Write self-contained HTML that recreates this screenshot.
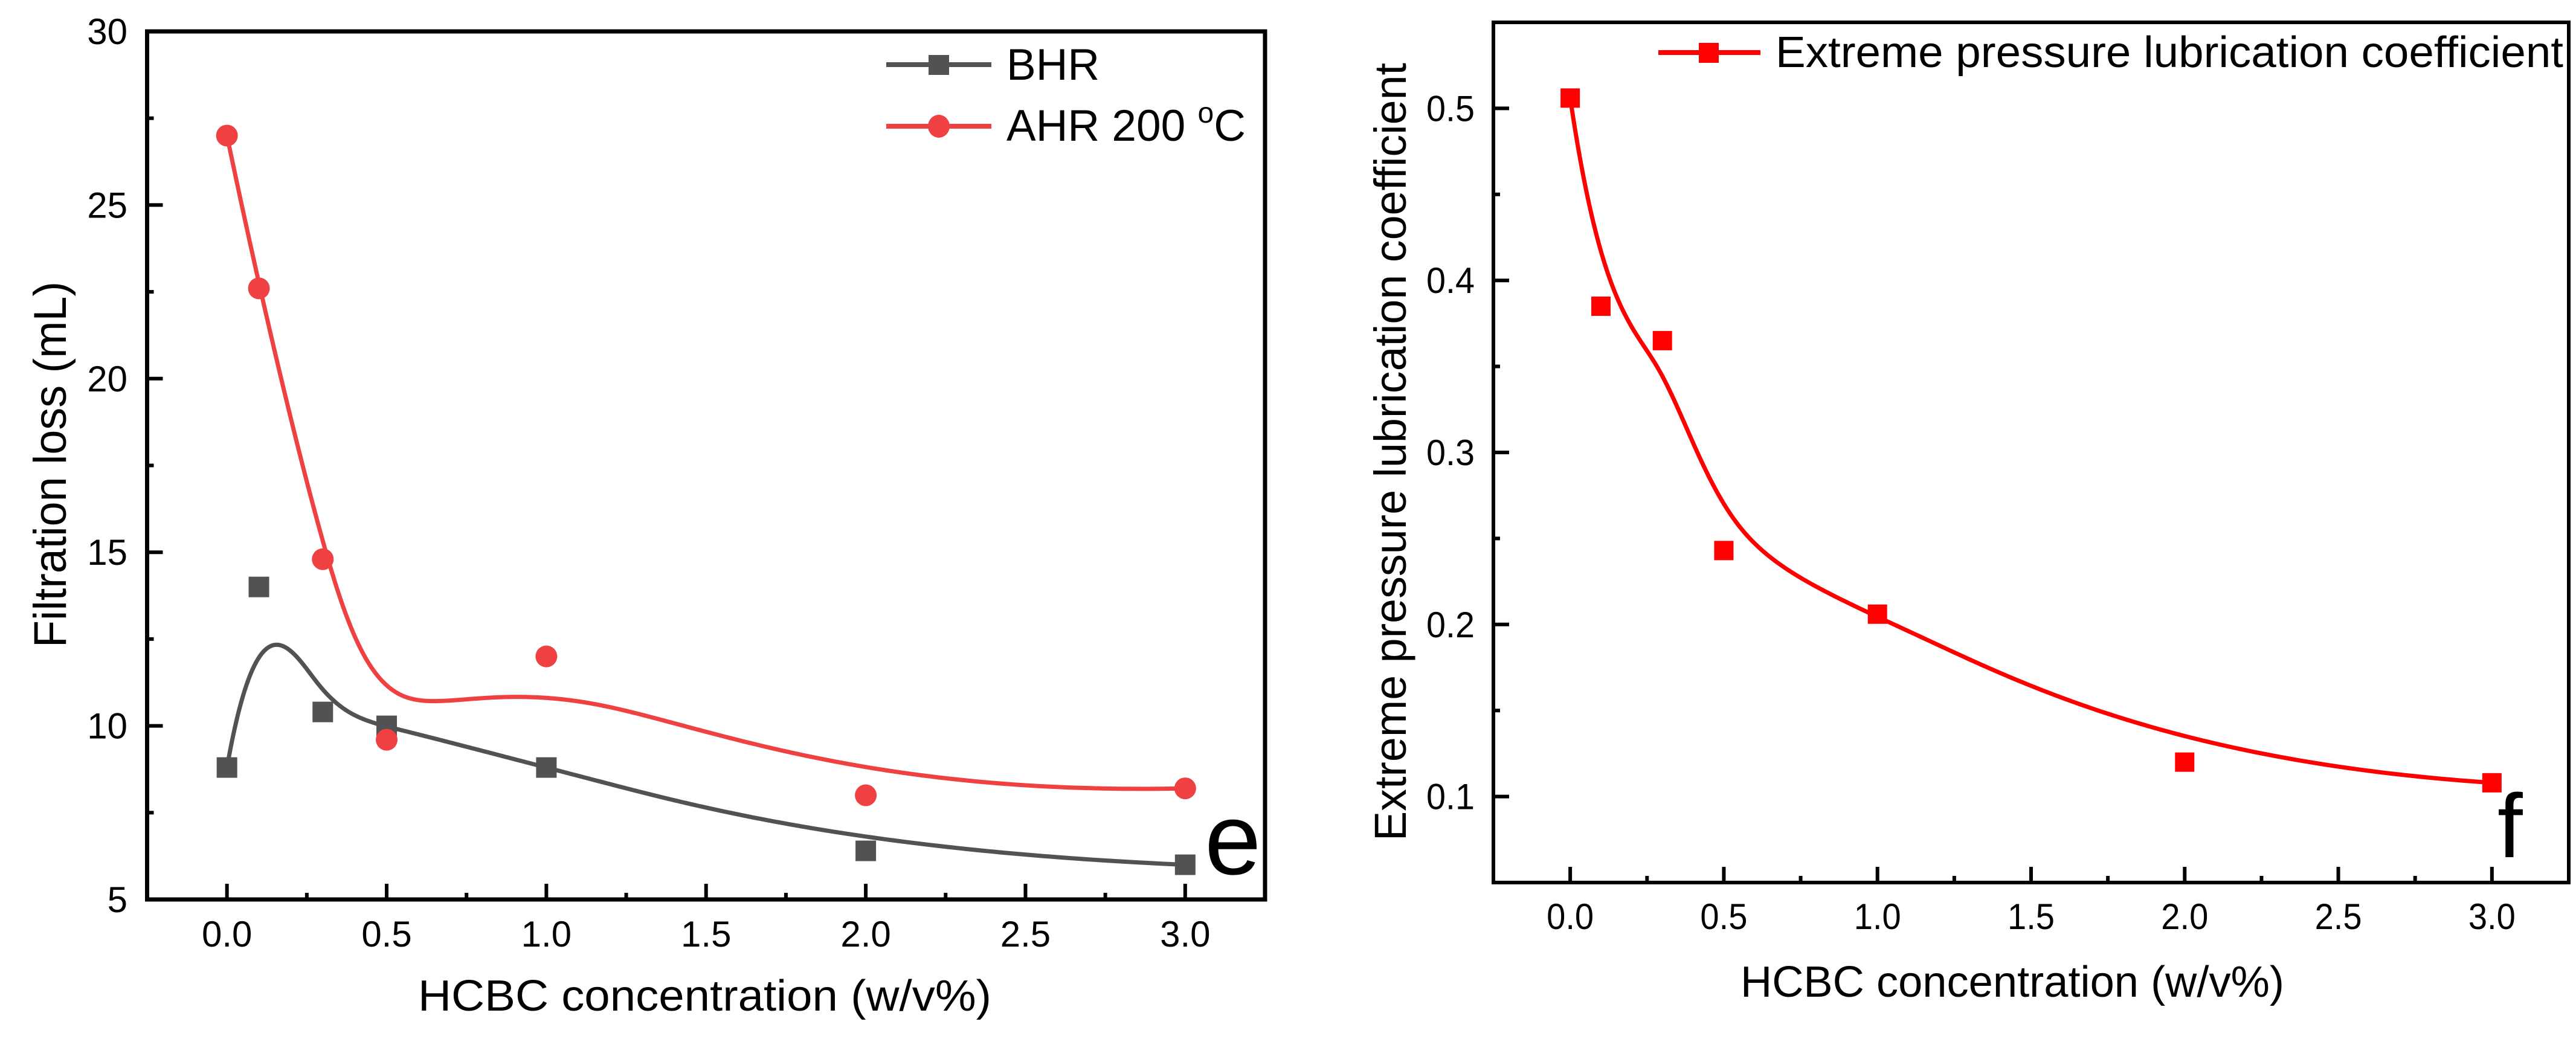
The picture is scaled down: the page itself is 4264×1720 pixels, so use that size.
<!DOCTYPE html>
<html>
<head>
<meta charset="utf-8">
<style>
html,body{margin:0;padding:0;background:#fff;}
svg{display:block;}
text{font-family:"Liberation Sans",Arial,sans-serif;fill:#000;}
</style>
</head>
<body>
<svg id="fig" width="4264" height="1720" viewBox="0 0 4264 1720" xmlns="http://www.w3.org/2000/svg">
  <g id="panelE"></g>
  <g id="panelF"></g>
</svg>
<script>
// ---- Data (panel e) ----
const concX = [0, 0.1, 0.3, 0.5, 1, 2, 3];
const bhrY = [8.8, 14.0, 10.4, 10.0, 8.8, 6.4, 6.0];
const ahrY = [27.0, 22.6, 14.8, 9.6, 12.0, 8.0, 8.2];
const eXTicks = [0, 0.5, 1.0, 1.5, 2.0, 2.5, 3.0];
const eXTickLabels = ["0.0","0.5","1.0","1.5","2.0","2.5","3.0"];
const eYTicks = [5, 10, 15, 20, 25, 30];
const eYTickLabels = ["5","10","15","20","25","30"];
// ---- Data (panel f) ----
const lubX = [0, 0.1, 0.3, 0.5, 1, 2, 3];
const lubY = [0.506, 0.385, 0.365, 0.243, 0.206, 0.120, 0.108];
const fXTicks = [0, 0.5, 1.0, 1.5, 2.0, 2.5, 3.0];
const fXTickLabels = ["0.0","0.5","1.0","1.5","2.0","2.5","3.0"];
const fYTicks = [0.1, 0.2, 0.3, 0.4, 0.5];
const fYTickLabels = ["0.1","0.2","0.3","0.4","0.5"];

const NS = "http://www.w3.org/2000/svg";
function mk(tag, attrs, parent){
  const e = document.createElementNS(NS, tag);
  for (const k in attrs) e.setAttribute(k, attrs[k]);
  if (parent) parent.appendChild(e);
  return e;
}
// clamped cubic B-spline with points as control polygon
function bspline(xs, ys, sx, sy){
  const n = xs.length, p = 3;
  const m = n - p; // number of segments
  const knots = [];
  for (let i=0;i<=p;i++) knots.push(0);
  for (let i=1;i<m;i++) knots.push(i);
  for (let i=0;i<=p;i++) knots.push(m);
  function deBoor(t){
    let k = p;
    while (k < n-1 && t >= knots[k+1]) k++;
    const dx=[], dy=[];
    for (let j=0;j<=p;j++){ dx.push(xs[j+k-p]); dy.push(ys[j+k-p]); }
    for (let r=1;r<=p;r++){
      for (let j=p;j>=r;j--){
        const i=j+k-p;
        const den = knots[i+p-r+1]-knots[i];
        const a = den===0?0:(t-knots[i])/den;
        dx[j]=(1-a)*dx[j-1]+a*dx[j];
        dy[j]=(1-a)*dy[j-1]+a*dy[j];
      }
    }
    return [dx[p], dy[p]];
  }
  let d = "";
  const N = 400;
  for (let s=0;s<=N;s++){
    const t = Math.min(s/N*m, m-1e-9);
    const [x,y] = deBoor(t);
    d += (s===0?"M":"L") + sx(x).toFixed(2) + "," + sy(y).toFixed(2);
  }
  return d;
}

// ---------- Panel e ----------
(function(){
  const g = document.getElementById("panelE");
  const L=243.5, R=2094, T=52, B=1489;
  const xmin=-0.25, xmax=3.25, ymin=5, ymax=30;
  const sx = v => L + (v-xmin)/(xmax-xmin)*(R-L);
  const sy = v => B - (v-ymin)/(ymax-ymin)*(B-T);

  // ticks
  for (let i=0;i<eXTicks.length;i++){
    const t = mk("line",{x1:sx(eXTicks[i]),x2:sx(eXTicks[i]),y1:B,y2:B-26,stroke:"#000","stroke-width":6},g);
    
    
    const lb = mk("text",{x:sx(eXTicks[i]),y:1567,"font-size":60,"text-anchor":"middle"},g);
    lb.textContent = eXTickLabels[i];
    
    
    if (i<eXTicks.length-1){
      const mv=(eXTicks[i]+eXTicks[i+1])/2;
      const mt = mk("line",{x1:sx(mv),x2:sx(mv),y1:B,y2:B-11,stroke:"#000","stroke-width":6},g);
      
      
    }
  }
  for (let i=0;i<eYTicks.length;i++){
    const t = mk("line",{x1:L,x2:L+26,y1:sy(eYTicks[i]),y2:sy(eYTicks[i]),stroke:"#000","stroke-width":6},g);
    
    
    const lb = mk("text",{x:211,y:sy(eYTicks[i])+21,"font-size":60,"text-anchor":"end"},g);
    lb.textContent = eYTickLabels[i];
    
    
    if (i<eYTicks.length-1){
      const mv=(eYTicks[i]+eYTicks[i+1])/2;
      const mt = mk("line",{x1:L,x2:L+11,y1:sy(mv),y2:sy(mv),stroke:"#000","stroke-width":6},g);
      
      
    }
  }
  // curves
  const c1 = mk("path",{d:bspline(concX,ahrY,sx,sy),fill:"none",stroke:"#EF4141","stroke-width":7,"stroke-linejoin":"round"},g);
  
  
  const c2 = mk("path",{d:bspline(concX,bhrY,sx,sy),fill:"none",stroke:"#525252","stroke-width":7,"stroke-linejoin":"round"},g);
  
  
  for (let i=0;i<concX.length;i++){
    const s = mk("rect",{x:sx(concX[i])-17,y:sy(bhrY[i])-17,width:34,height:34,fill:"#525252"},g);
    
    
  }
  for (let i=0;i<concX.length;i++){
    const c = mk("circle",{cx:sx(concX[i]),cy:sy(ahrY[i]),r:18,fill:"#EF4141"},g);
    
    
  }
  // frame
  const fr = mk("rect",{x:L,y:T,width:R-L,height:B-T,fill:"none",stroke:"#000","stroke-width":7},g);
  
  
  // legend
  const lg = mk("g",{},g);
  
  
  const l1 = mk("g",{},lg);
  
  
  mk("line",{x1:1467,x2:1641,y1:107,y2:107,stroke:"#525252","stroke-width":8},l1);
  mk("rect",{x:1537,y:91,width:34,height:33,fill:"#525252"},l1);
  const t1 = mk("text",{x:1666,y:132,"font-size":73},l1); t1.textContent="BHR";
  const l2 = mk("g",{},lg);
  
  
  mk("line",{x1:1467,x2:1641,y1:209,y2:209,stroke:"#EF4141","stroke-width":8},l2);
  mk("ellipse",{cx:1554,cy:209,rx:18,ry:19,fill:"#EF4141"},l2);
  const t2 = mk("text",{x:1666,y:233,"font-size":73},l2);
  t2.innerHTML = 'AHR 200 <tspan font-size="48" dy="-30">o</tspan><tspan dy="30">C</tspan>';
  // axis titles
  const xt = mk("text",{x:692,y:1673,"font-size":72,textLength:949,lengthAdjust:"spacingAndGlyphs"},g);
  xt.textContent="HCBC concentration (w/v%)";
  
  
  const yt = mk("text",{x:0,y:0,"font-size":76,textLength:606,lengthAdjust:"spacingAndGlyphs",transform:"translate(109,1072) rotate(-90)"},g);
  yt.textContent="Filtration loss (mL)";
  
  
  const pl = mk("text",{x:1994,y:1447,"font-size":168},g);
  pl.textContent="e";
  
  
})();

// ---------- Panel f ----------
(function(){
  const g = document.getElementById("panelF");
  const L=2472, R=4252, T=37, B=1461;
  const xmin=-0.25, xmax=3.25, ymin=0.05, ymax=0.55;
  const sx = v => L + (v-xmin)/(xmax-xmin)*(R-L);
  const sy = v => B - (v-ymin)/(ymax-ymin)*(B-T);

  for (let i=0;i<fXTicks.length;i++){
    const t = mk("line",{x1:sx(fXTicks[i]),x2:sx(fXTicks[i]),y1:B,y2:B-26,stroke:"#000","stroke-width":6},g);
    
    
    const lb = mk("text",{x:sx(fXTicks[i]),y:1538,"font-size":60,"text-anchor":"middle",textLength:78,lengthAdjust:"spacingAndGlyphs"},g);
    lb.textContent = fXTickLabels[i];
    
    
    if (i<fXTicks.length-1){
      const mv=(fXTicks[i]+fXTicks[i+1])/2;
      const mt = mk("line",{x1:sx(mv),x2:sx(mv),y1:B,y2:B-11,stroke:"#000","stroke-width":6},g);
      
      
    }
  }
  for (let i=0;i<fYTicks.length;i++){
    const t = mk("line",{x1:L,x2:L+26,y1:sy(fYTicks[i]),y2:sy(fYTicks[i]),stroke:"#000","stroke-width":6},g);
    
    
    const lb = mk("text",{x:2441,y:sy(fYTicks[i])+21,"font-size":60,"text-anchor":"end",textLength:80,lengthAdjust:"spacingAndGlyphs"},g);
    lb.textContent = fYTickLabels[i];
    
    
    const mv = fYTicks[i]+0.05;
    const mt = mk("line",{x1:L,x2:L+11,y1:sy(mv),y2:sy(mv),stroke:"#000","stroke-width":6},g);
    
    
  }
  const c = mk("path",{d:bspline(lubX,lubY,sx,sy),fill:"none",stroke:"#FF0000","stroke-width":7,"stroke-linejoin":"round"},g);
  
  
  for (let i=0;i<lubX.length;i++){
    const s = mk("rect",{x:sx(lubX[i])-16,y:sy(lubY[i])-16,width:32,height:32,fill:"#FF0000"},g);
    
    
  }
  const fr = mk("rect",{x:L,y:T,width:R-L,height:B-T,fill:"none",stroke:"#000","stroke-width":6},g);
  
  
  const lg = mk("g",{},g);
  
  
  mk("line",{x1:2745,x2:2914,y1:87,y2:87,stroke:"#FF0000","stroke-width":8},lg);
  mk("rect",{x:2812,y:71,width:33,height:33,fill:"#FF0000"},lg);
  const lt = mk("text",{x:2939,y:111,"font-size":72,textLength:1304,lengthAdjust:"spacingAndGlyphs"},lg);
  lt.textContent="Extreme pressure lubrication coefficient";
  const xt = mk("text",{x:2881,y:1650,"font-size":72,textLength:900,lengthAdjust:"spacingAndGlyphs"},g);
  xt.textContent="HCBC concentration (w/v%)";
  
  
  const yt = mk("text",{x:0,y:0,"font-size":74,textLength:1288,lengthAdjust:"spacingAndGlyphs",transform:"translate(2327,1392) rotate(-90)"},g);
  yt.textContent="Extreme pressure lubrication coefficient";
  
  
  const pl = mk("text",{x:4134,y:1419,"font-size":150},g);
  pl.textContent="f";
  
  
})();
</script>
</body>
</html>
